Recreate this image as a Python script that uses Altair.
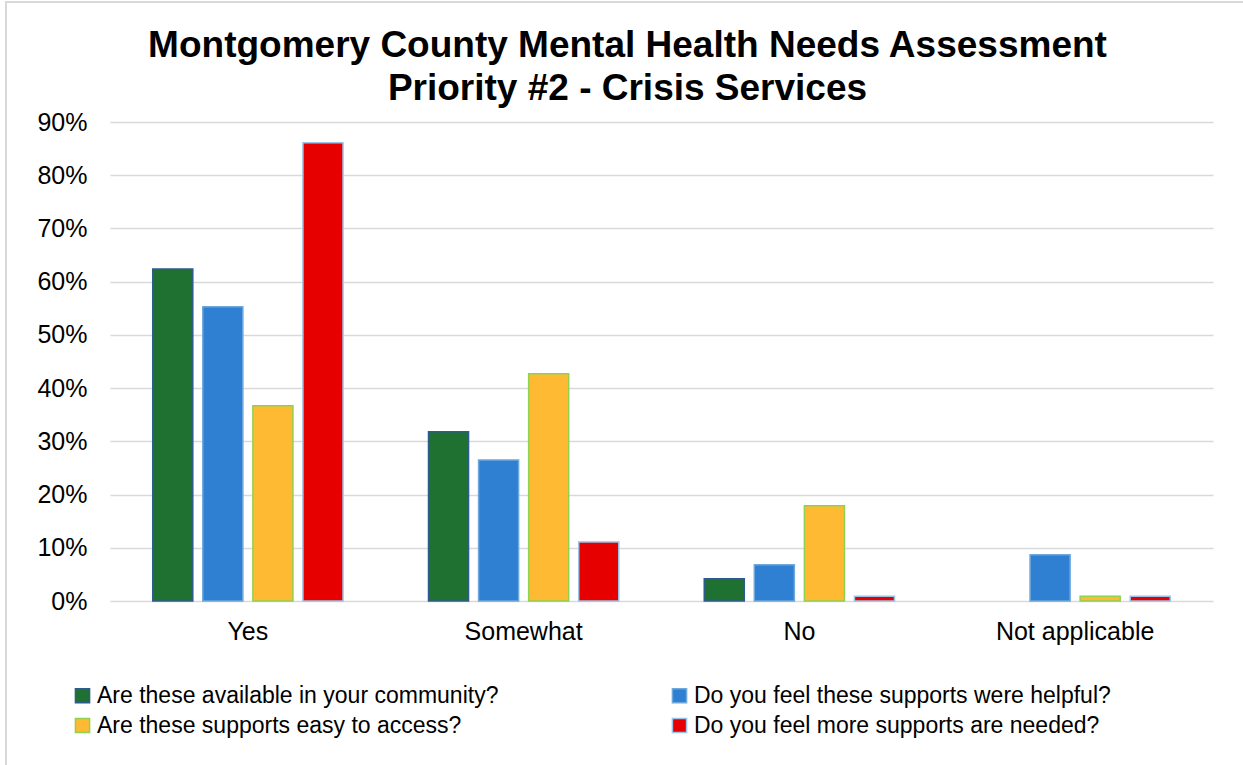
import altair as alt
import pandas as pd

categories = ["Yes", "Somewhat", "No", "Not applicable"]
series = [
    "Are these available in your community?",
    "Do you feel these supports were helpful?",
    "Are these supports easy to access?",
    "Do you feel more supports are needed?",
]
available = [0.624, 0.318, 0.042, 0.0]
helpful = [0.553, 0.265, 0.068, 0.087]
easy = [0.367, 0.427, 0.179, 0.009]
needed = [0.861, 0.111, 0.009, 0.009]

fills = ["#1E7130", "#2F80D3", "#FFBA33", "#E60000"]
strokes = ["#2F5C8F", "#6FA8DC", "#92D050", "#9DC3E6"]

# legend fills column by column: order entries so rows read available|helpful, easy|needed
legend_order = [series[0], series[2], series[1], series[3]]
legend_fills = [fills[0], fills[2], fills[1], fills[3]]
legend_strokes = [strokes[0], strokes[2], strokes[1], strokes[3]]

rows = []
for s, vals in zip(series, [available, helpful, easy, needed]):
    for c, v in zip(categories, vals):
        rows.append({"category": c, "series": s, "value": v})
df = pd.DataFrame(rows)

FONT = "Liberation Sans"

legend = alt.Legend(title=None, orient="none", columns=2,
                    legendX=-39, legendY=562,
                    symbolType="square", symbolSize=200,
                    symbolStrokeWidth=1.5,
                    labelFontSize=23, labelFont=FONT,
                    labelColor="#000000", labelOffset=3,
                    rowPadding=6, columnPadding=169,
                    labelLimit=700)

bars = alt.Chart(df).mark_bar(strokeWidth=1.5).encode(
    x=alt.X("category:N", sort=categories, title=None,
            scale=alt.Scale(paddingInner=0.31, paddingOuter=0.155),
            axis=alt.Axis(labelAngle=0, labelFontSize=25, labelFont=FONT,
                          labelColor="#000000", ticks=False, domain=False,
                          labelPadding=18, grid=False)),
    xOffset=alt.XOffset("series:N", sort=series,
                        scale=alt.Scale(paddingInner=0.2, paddingOuter=0)),
    y=alt.Y("value:Q", title=None,
            scale=alt.Scale(domain=[0, 0.9], nice=False),
            axis=alt.Axis(format=".0%", values=[i / 10 for i in range(10)],
                          labelFontSize=25, labelFont=FONT, labelColor="#000000",
                          ticks=False, domain=False, labelPadding=23,
                          grid=True, gridColor="#D9D9D9", gridWidth=1.5)),
    color=alt.Color("series:N",
                    scale=alt.Scale(domain=legend_order, range=legend_fills),
                    legend=legend),
    stroke=alt.Stroke("series:N",
                      scale=alt.Scale(domain=legend_order, range=legend_strokes),
                      legend=legend),
    strokeOpacity=alt.condition("datum.value > 0", alt.value(1), alt.value(0)),
)

border = alt.Chart(alt.Data(values=[{}])).mark_rect(
    fill=None, stroke="#D9D9D9", strokeWidth=2
).encode(
    x=alt.value(-104), x2=alt.value(1150), y=alt.value(-120), y2=alt.value(660)
)

chart = alt.layer(border, bars).properties(
    width=1103, height=479,
    title=alt.TitleParams(
        ["Montgomery County Mental Health Needs Assessment", "Priority #2 - Crisis Services"],
        font=FONT, fontSize=37, fontWeight="bold", color="#000000",
        anchor="middle", frame="group", dx=-34, offset=-107, lineHeight=43),
    autosize=alt.AutoSizeParams(type="none"),
    padding={"left": 110, "top": 122, "right": 30, "bottom": 164},
).configure(background="white").configure_view(stroke=None)

chart.save("out.html", embed_options={"renderer": "svg", "actions": False})
